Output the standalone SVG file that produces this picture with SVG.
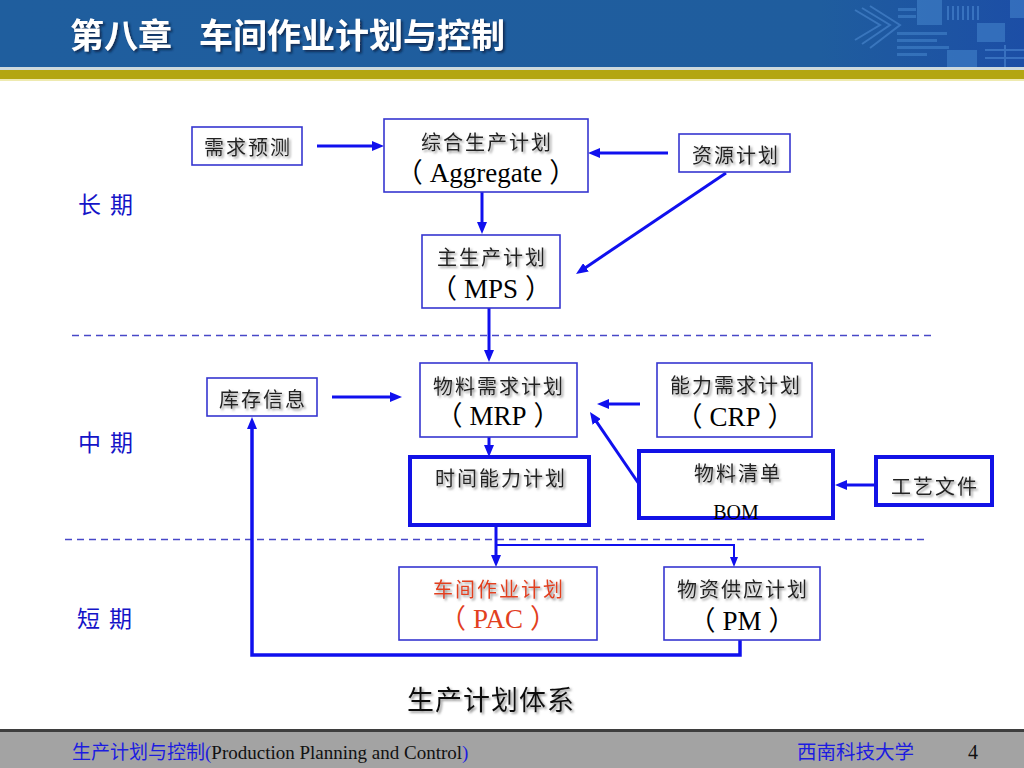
<svg xmlns="http://www.w3.org/2000/svg" width="1024" height="768" viewBox="0 0 1024 768">
<defs>
<linearGradient id="hdr" x1="0" y1="0" x2="1" y2="0">
<stop offset="0" stop-color="#1f5e9e"/>
<stop offset="0.8" stop-color="#1f5d9e"/>
<stop offset="1" stop-color="#1c4ea6"/>
</linearGradient>
<filter id="sh" x="-10%" y="-20%" width="130%" height="160%">
<feDropShadow dx="1.8" dy="1.8" stdDeviation="0.8" flood-color="#8a8a8a" flood-opacity="0.9"/>
</filter>
<filter id="shd" x="-10%" y="-20%" width="130%" height="160%">
<feDropShadow dx="2" dy="2" stdDeviation="0.8" flood-color="#0a2a50" flood-opacity="0.9"/>
</filter>
<marker id="arr" viewBox="0 0 12 10" refX="2" refY="5" markerWidth="12" markerHeight="10" markerUnits="userSpaceOnUse" orient="auto">
<path d="M0,0 L12,5 L0,10 z" fill="#1010ee"/>
</marker>
<marker id="arrS" viewBox="0 0 10 8" refX="2" refY="4" markerWidth="10" markerHeight="8" markerUnits="userSpaceOnUse" orient="auto">
<path d="M0,0 L10,4 L0,8 z" fill="#1010ee"/>
</marker>
<style>
.box{fill:#fff;stroke:#3636d0;stroke-width:1.6}
.tbox{fill:#fff;stroke:#1212e6;stroke-width:4}
.cn{font-family:"Noto Sans CJK SC",sans-serif;font-size:20px;fill:#222;text-anchor:middle;letter-spacing:2px;filter:url(#sh)}
.en{font-family:"Liberation Serif","Noto Sans CJK SC",serif;font-size:27px;fill:#000;text-anchor:middle}
.red{fill:#e2401e}
.conn{stroke:#1010ee;stroke-width:3;fill:none}
.dash{stroke:#4848c8;stroke-width:1.5;stroke-dasharray:7 5;fill:none}
.period{font-family:"Noto Sans CJK SC",sans-serif;font-size:23px;fill:#1414c8;letter-spacing:9px}
.deco{fill:#4f92d8;opacity:0.45}
.decol{stroke:#5a9ae0;stroke-width:2;opacity:0.45;fill:none}
</style>
</defs>

<rect width="1024" height="768" fill="#fff"/>

<g id="header">
<rect x="0" y="0" width="1024" height="67" fill="url(#hdr)"/>
<path class="decol" d="M855,10 L880,25 L855,40 M862,8 L890,25 L862,44 M870,6 L900,25 L870,48"/>
<rect class="deco" x="917" y="0" width="25" height="25"/>
<rect class="deco" x="898" y="8" width="18" height="3"/>
<rect class="deco" x="898" y="15" width="18" height="3"/>
<path class="decol" d="M948,6 L948,20 M953,6 L953,20 M958,6 L958,20 M963,6 L963,20 M968,6 L968,20 M973,6 L973,20 M978,6 L978,20"/>
<rect class="deco" x="977" y="23" width="28" height="19"/>
<rect class="deco" x="1010" y="0" width="14" height="18"/>
<rect class="deco" x="897" y="32" width="50" height="3"/>
<rect class="deco" x="897" y="39" width="40" height="3"/>
<rect class="deco" x="897" y="46" width="52" height="3"/>
<rect class="deco" x="897" y="53" width="30" height="3"/>
<rect class="deco" x="947" y="50" width="30" height="17"/>
<path class="decol" d="M985,50 L1024,50 M985,58 L1024,58 M1005,45 L1005,67"/>
<rect x="0" y="67" width="1024" height="3" fill="#cdd9de"/>
<rect x="0" y="70" width="1024" height="9" fill="#b3a612"/>
<rect x="0" y="79" width="1024" height="2" fill="#eeeab0"/>
<text x="70" y="48" font-family="Noto Sans CJK SC,sans-serif" font-size="34" font-weight="bold" fill="#fff" filter="url(#shd)">第八章</text>
<text x="199" y="48" font-family="Noto Sans CJK SC,sans-serif" font-size="34" font-weight="bold" fill="#fff" filter="url(#shd)">车间作业计划与控制</text>
</g>

<g id="periods">
<text class="period" x="78" y="213">长期</text>
<text class="period" x="78" y="451">中期</text>
<text class="period" x="77" y="627">短期</text>
</g>

<g id="dividers">
<line class="dash" x1="72" y1="335.5" x2="933" y2="335.5"/>
<line class="dash" x1="65" y1="539.5" x2="926" y2="539.5"/>
</g>

<g id="connectors">
<line class="conn" x1="317" y1="146" x2="374" y2="146" marker-end="url(#arr)"/>
<line class="conn" x1="668" y1="153" x2="598" y2="153" marker-end="url(#arr)"/>
<line class="conn" x1="726" y1="173" x2="584.3" y2="268.4" marker-end="url(#arr)"/>
<line class="conn" x1="482" y1="192" x2="482" y2="224" marker-end="url(#arr)"/>
<line class="conn" x1="489" y1="308" x2="489" y2="352" marker-end="url(#arr)"/>
<line class="conn" x1="332" y1="397" x2="392" y2="397" marker-end="url(#arr)"/>
<line class="conn" x1="640" y1="404" x2="607" y2="404" marker-end="url(#arr)"/>
<line class="conn" x1="639" y1="484" x2="595.6" y2="420.3" marker-end="url(#arr)"/>
<line class="conn" x1="876" y1="485" x2="845" y2="485" marker-end="url(#arr)"/>
<line class="conn" x1="489" y1="437" x2="489" y2="447" marker-end="url(#arr)"/>
<line class="conn" x1="496" y1="525" x2="496" y2="557" marker-end="url(#arr)"/>
<polyline class="conn" style="stroke-width:2" points="496,545 734,545 734,559" marker-end="url(#arrS)"/>
<polyline class="conn" style="stroke-width:3.5" points="740,640 740,655 252,655 252,427" marker-end="url(#arr)"/>
</g>

<g id="n-demand">
<rect class="box" x="192" y="127" width="110" height="38"/>
<text class="cn" x="248" y="155">需求预测</text>
</g>
<g id="n-aggregate">
<rect class="box" x="384" y="119" width="204" height="73"/>
<text class="cn" x="487" y="150">综合生产计划</text>
<text class="en" x="486" y="182">（<tspan dx="7">Aggregate</tspan><tspan dx="7">）</tspan></text>
</g>
<g id="n-resource">
<rect class="box" x="679" y="134" width="111" height="38"/>
<text class="cn" x="736" y="163">资源计划</text>
</g>
<g id="n-mps">
<rect class="box" x="422" y="235" width="138" height="73"/>
<text class="cn" x="492" y="265">主生产计划</text>
<text class="en" x="491" y="298">（<tspan dx="7">MPS</tspan><tspan dx="7">）</tspan></text>
</g>
<g id="n-mrp">
<rect class="box" x="420" y="363" width="157" height="74"/>
<text class="cn" x="499" y="394">物料需求计划</text>
<text class="en" x="498" y="425">（<tspan dx="7">MRP</tspan><tspan dx="7">）</tspan></text>
</g>
<g id="n-inventory">
<rect class="box" x="207" y="378" width="110" height="38"/>
<text class="cn" x="263" y="407">库存信息</text>
</g>
<g id="n-crp">
<rect class="box" x="657" y="363" width="155" height="74"/>
<text class="cn" x="736" y="393">能力需求计划</text>
<text class="en" x="735" y="426">（<tspan dx="7">CRP</tspan><tspan dx="7">）</tspan></text>
</g>
<g id="n-timecap">
<rect class="tbox" x="410" y="457" width="179" height="68"/>
<text class="cn" x="501" y="486">时间能力计划</text>
</g>
<g id="n-bom">
<rect class="tbox" x="639" y="451" width="194" height="67"/>
<text class="cn" x="738" y="481">物料清单</text>
<text class="en" x="736" y="519" style="font-size:20px">BOM</text>
</g>
<g id="n-process">
<rect class="tbox" x="876" y="457" width="116" height="48"/>
<text class="cn" x="935" y="494">工艺文件</text>
</g>
<g id="n-pac">
<rect class="box" x="399" y="567" width="198" height="73"/>
<text class="cn red" x="499" y="597">车间作业计划</text>
<text class="en red" x="498" y="628">（<tspan dx="7">PAC</tspan><tspan dx="7">）</tspan></text>
</g>
<g id="n-pm">
<rect class="box" x="664" y="567" width="156" height="73"/>
<text class="cn" x="743" y="597">物资供应计划</text>
<text class="en" x="742" y="630">（<tspan dx="7">PM</tspan><tspan dx="7">）</tspan></text>
</g>

<g id="caption">
<text x="491" y="710" font-family="Noto Sans CJK SC,sans-serif" font-size="27" fill="#111" text-anchor="middle" letter-spacing="1" filter="url(#sh)">生产计划体系</text>
</g>

<g id="footer">
<rect x="0" y="729" width="1024" height="3" fill="#3e3e3e"/>
<rect x="0" y="732" width="1024" height="36" fill="#a3a3a3"/>
<text x="72" y="759" font-family="Liberation Serif,Noto Sans CJK SC,serif" font-size="19" fill="#1c1ce0">生产计划与控制(<tspan fill="#111">Production Planning and Control</tspan>)</text>
<text x="797" y="759" font-family="Noto Sans CJK SC,sans-serif" font-size="19.5" fill="#1c1ce0">西南科技大学</text>
<text x="968" y="759" font-family="Liberation Serif,serif" font-size="20" fill="#111">4</text>
</g>
</svg>
